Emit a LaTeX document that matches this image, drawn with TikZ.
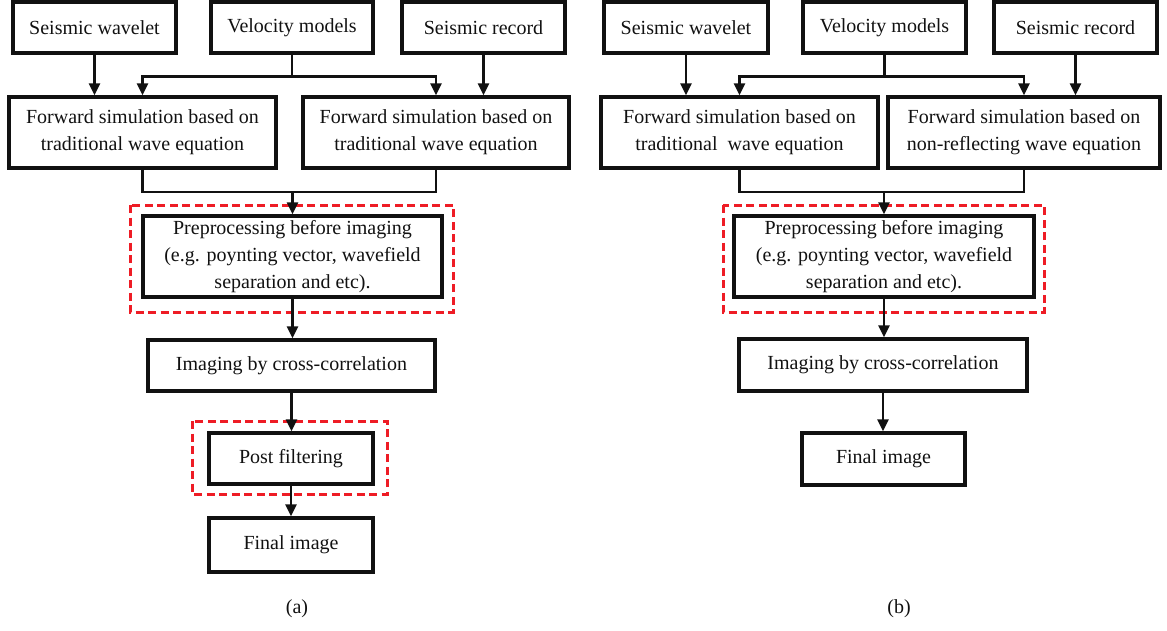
\documentclass[tikz,border=0pt]{standalone}
\usepackage{fontspec}
\setmainfont{Liberation Serif}
\usetikzlibrary{arrows.meta}
\definecolor{dashred}{HTML}{EE1C25}
\definecolor{ink}{HTML}{111111}
\begin{document}
\begin{tikzpicture}[x=1pt,y=-1pt,
  box/.style={draw=ink, line width=3.2pt, rectangle, inner sep=0pt, align=center, text=ink,
    font=\fontsize{20}{27}\selectfont},
  ln/.style={draw=ink, line width=2.6pt},
  arr/.style={draw=ink, line width=2.6pt, -{Triangle[length=12pt,width=11pt]}},
  redbox/.style={draw=dashred, line width=3pt, dash pattern=on 8pt off 4.5pt},
  sublabel/.style={font=\fontsize{20}{24}\selectfont, text=ink}]
\useasboundingbox (0,0) rectangle (1167,630);

% red dashed frames (behind)
\draw[redbox] (130,205) rectangle (453,312);
\draw[redbox] (192,421) rectangle (387,494);
\draw[redbox] (723,205) rectangle (1044,312);

% ---------------- panel (a) ----------------
\node[box, minimum width=163pt, minimum height=51pt] (wa) at (94.5,27.5) {Seismic wavelet};
\node[box, minimum width=162pt, minimum height=51pt] (va) at (292,27.5) {Velocity models};
\node[box, minimum width=163pt, minimum height=51pt] (ra) at (483.5,27.5) {Seismic record};
\node[box, minimum width=267pt, minimum height=71pt] (fla) at (142.5,132.5) {Forward simulation based on\\traditional wave equation};
\node[box, minimum width=266pt, minimum height=71pt] (fra) at (436,132.5) {Forward simulation based on\\traditional wave equation};
\node[box, minimum width=299pt, minimum height=81pt] (pa) at (292.5,256.5) {Preprocessing before imaging\\(e.g. poynting vector, wavefield\\separation and etc).};
\node[box, minimum width=287pt, minimum height=51pt] (ia) at (291.5,365.5) {Imaging by cross-correlation};
\node[box, minimum width=164pt, minimum height=51pt] (pf) at (291,458.5) {Post filtering};
\node[box, minimum width=164pt, minimum height=54pt] (fia) at (291,545) {Final image};
\node[sublabel] (la) at (297,609) {(a)};

\coordinate (ja) at ([yshift=-22pt]va.south);
\coordinate (ka) at (292.5,192);
\draw[arr] (wa.south) -- (wa.south |- fla.north);
\draw[ln] (va.south) -- (ja);
\draw[arr] (ja) -| (fla.north);
\draw[arr] (ja) -| (fra.north);
\draw[arr] (ra.south) -- (ra.south |- fra.north);
\draw[ln] (fla.south) -- (fla.south |- ka) -- (fra.south |- ka) -- (fra.south);
\draw[arr] (ka) -- (pa.north);
\draw[arr] (pa.south) -- (pa.south |- ia.north);
\draw[arr] (ia.south) -- (ia.south |- pf.north);
\draw[arr] (pf.south) -- (fia.north);

% ---------------- panel (b) ----------------
\node[box, minimum width=164pt, minimum height=51pt] (wb) at (686,27.5) {Seismic wavelet};
\node[box, minimum width=163pt, minimum height=51pt] (vb) at (884.5,27.5) {Velocity models};
\node[box, minimum width=163pt, minimum height=51pt] (rb) at (1075.5,27.5) {Seismic record};
\node[box, minimum width=277pt, minimum height=71pt] (flb) at (739.5,132.5) {Forward simulation based on\\traditional\hspace{0.25em} wave equation};
\node[box, minimum width=272pt, minimum height=71pt] (frb) at (1024,132.5) {Forward simulation based on\\non-reflecting wave equation};
\node[box, minimum width=300pt, minimum height=81pt] (pb) at (884,256.5) {Preprocessing before imaging\\(e.g. poynting vector, wavefield\\separation and etc).};
\node[box, minimum width=288pt, minimum height=52pt] (ib) at (883,365) {Imaging by cross-correlation};
\node[box, minimum width=163pt, minimum height=52pt] (fib) at (883.5,459) {Final image};
\node[sublabel] (lb) at (899,609) {(b)};

\coordinate (jb) at ([yshift=-22pt]vb.south);
\coordinate (kb) at (884,192);
\draw[arr] (wb.south) -- (wb.south |- flb.north);
\draw[ln] (vb.south) -- (jb);
\draw[arr] (jb) -| (flb.north);
\draw[arr] (jb) -| (frb.north);
\draw[arr] (rb.south) -- (rb.south |- frb.north);
\draw[ln] (flb.south) -- (flb.south |- kb) -- (frb.south |- kb) -- (frb.south);
\draw[arr] (kb) -- (pb.north);
\draw[arr] (pb.south) -- (pb.south |- ib.north);
\draw[arr] (ib.south) -- (ib.south |- fib.north);
\end{tikzpicture}
\end{document}
